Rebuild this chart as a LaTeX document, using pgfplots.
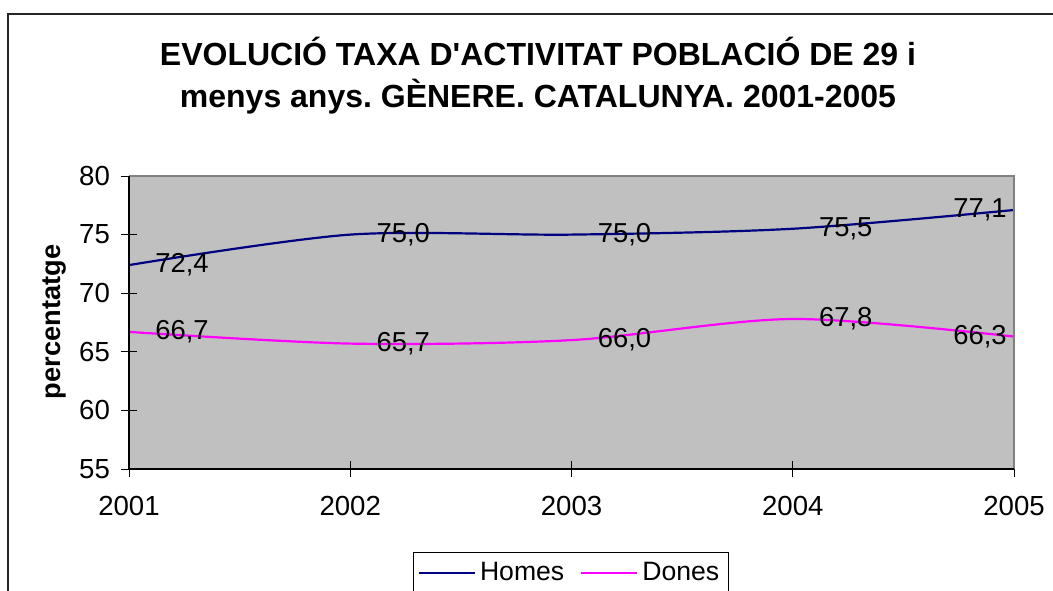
\documentclass[border=0pt]{standalone}
\usepackage{fontspec}
\setmainfont{Liberation Sans}[Ligatures=TeXOff]
\usepackage{pgfplots}
\pgfplotsset{compat=1.18}
\definecolor{plotgrey}{HTML}{C0C0C0}
\definecolor{homes}{HTML}{000080}
\definecolor{dones}{HTML}{FF00FF}
\definecolor{framegrey}{HTML}{808080}
\frenchspacing
\begin{document}
\begin{tikzpicture}
\useasboundingbox (0,0) rectangle (526.5pt,-295pt);
\draw[line width=0.8pt, black!85] (4pt,-296pt) -- (4pt,-7pt) -- (527pt,-7pt);
\node[font=\fontsize{16}{18}\selectfont\bfseries, anchor=base, inner sep=0pt] at (269pt,-32.5pt) {EVOLUCIÓ TAXA D'ACTIVITAT POBLACIÓ DE 29 i};
\node[font=\fontsize{16}{18}\selectfont\bfseries, anchor=base, inner sep=0pt] at (269pt,-53.5pt) {menys anys. GÈNERE. CATALUNYA. 2001-2005};
\begin{axis}[
  name=ax,
  at={(64.5pt,-234.5pt)}, anchor=south west,
  scale only axis, width=442.5pt, height=146.5pt,
  xmin=2001, xmax=2005, ymin=55, ymax=80,
  xtick={2001,2002,2003,2004,2005}, ytick={55,60,65,70,75,80},
  tick pos=left,
  /pgf/number format/assume math mode=true,
  x tick label style={/pgf/number format/1000 sep={}, yshift=-6pt},
  y tick label style={xshift=-2pt},
  tick label style={font=\fontsize{13.8}{16}\selectfont},
  tick align=center, major tick length=8pt,
  tick style={black, line width=0.5pt},
  axis background/.style={fill=plotgrey},
  axis line style={draw=none},
  clip=false,
  ylabel={percentatge},
  ylabel style={font=\fontsize{13.6}{15}\selectfont\bfseries, at={(axis description cs:-0.0847,0.502)}, anchor=center},
  lbl/.style={nodes near coords={\pgfmathprintnumber[fixed,fixed zerofill,precision=1,use comma]{\pgfplotspointmeta}},
    every node near coord/.append style={black, font=\fontsize{13.7}{16}\selectfont, inner sep=0pt}},
  legend style={at={(0.499,-0.283)}, anchor=north, draw=black, line width=0.5pt,
    font=\fontsize{13.3}{15}\selectfont, inner ysep=3pt, inner xsep=2.5pt,
    /tikz/every even column/.append style={column sep=6pt}},
  legend columns=2,
  legend image code/.code={\draw[#1, line width=1pt] (0pt,0pt) -- (28pt,0pt);},
]
\addplot[homes, line width=1.1pt, smooth] coordinates {(2001,72.4) (2002,75.0) (2003,75.0) (2004,75.5) (2005,77.1)};
\addlegendentry{Homes}
\addplot[dones, line width=1.1pt, smooth] coordinates {(2001,66.7) (2002,65.7) (2003,66.0) (2004,67.8) (2005,66.3)};
\addlegendentry{Dones}
\addplot[draw=none, mark=none, forget plot, lbl, every node near coord/.append style={anchor=west, xshift=13pt}]
  coordinates {(2001,72.4) (2002,75.0) (2003,75.0) (2004,75.5)};
\addplot[draw=none, mark=none, forget plot, lbl, every node near coord/.append style={anchor=west, xshift=13pt}]
  coordinates {(2001,66.7) (2002,65.7) (2003,66.0) (2004,67.8)};
\addplot[draw=none, mark=none, forget plot, lbl, every node near coord/.append style={anchor=east, xshift=-3.5pt}]
  coordinates {(2005,77.1)};
\addplot[draw=none, mark=none, forget plot, lbl, every node near coord/.append style={anchor=east, xshift=-3.5pt}]
  coordinates {(2005,66.3)};
\end{axis}
\draw[framegrey, line width=1pt] (ax.north west) -- (ax.north east) -- (ax.south east);
\draw[black, line width=1pt] (ax.north west) -- (ax.south west) -- (ax.south east);
\end{tikzpicture}
\end{document}
